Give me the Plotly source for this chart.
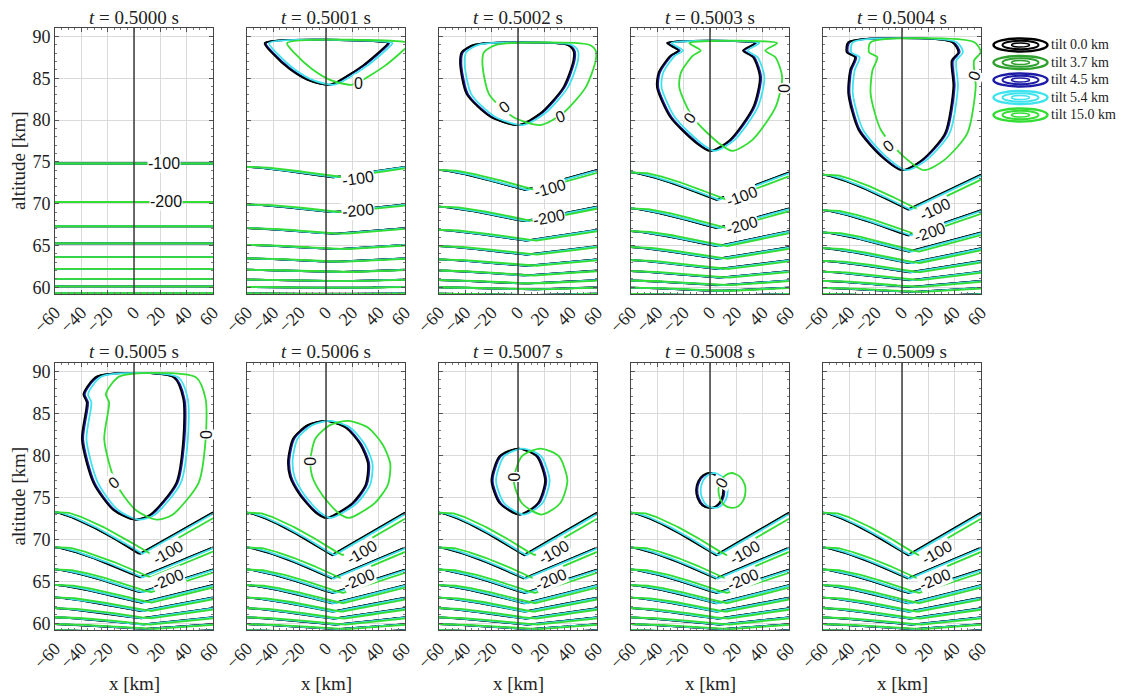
import numpy as np
import plotly.graph_objects as go

# ---------------- data ----------------
times = ["0.5000", "0.5001", "0.5002", "0.5003", "0.5004",
         "0.5005", "0.5006", "0.5007", "0.5008", "0.5009"]
tilt_labels = ["tilt 0.0 km", "tilt 3.7 km", "tilt 4.5 km", "tilt 5.4 km", "tilt 15.0 km"]
tilt_colors = ["#000000", "#2ea02e", "#1c1ca6", "#3fe3ee", "#33dd33"]
draw_order = [1, 2, 0, 3, 4]

# undisturbed contour altitudes (km) of the layered field (t = 0.5000 s)
levels = [74.8, 70.2, 67.3, 65.25, 63.6, 62.2, 61.0, 60.1, 59.3]
base_alt = 58.0
# relative depth of the V-shaped depression per panel
depth = [0.0, 0.10, 0.19, 0.26, 0.33, 0.39, 0.40, 0.40, 0.40, 0.40]
edge_frac = 0.24
vertex_x = 4.0
# horizontal displacement of each tilt's contours (km)
line_shift = [0.0, 0.4, 0.8, 2.0, 8.0]
bubble_shift = [0.0, 0.5, 1.0, 3.5, 17.0]

# zero contour (tilt 0.0 km) outlines per panel
bub1_x = [-46.6, -40.3, -27.7, -12.5, 2.0, 7.7, 27.9, 45.6, 47.0, -46.6]
bub1_z = [89.2, 87.9, 86.1, 84.7, 84.2, 84.5, 86.5, 88.9, 89.2, 89.2]
bub2_x = [-33.0, -42.8, -44.0, -39.0, -21.0, 0.0, 17.0, 34.4, 42.0, 42.0, 37.0, -33.0]
bub2_z = [89.0, 88.1, 86.7, 83.1, 80.4, 79.4, 80.8, 83.9, 87.1, 88.3, 89.0, 89.0]
bub3_x = [-32.7, -24.0, -30.0, -39.0, -40.3, -30.0, -10.0, 0.0, 15.0, 32.7, 37.8, 32.7, 25.0, 34.0, -32.7]
bub3_z = [89.2, 88.3, 87.7, 85.7, 83.9, 80.3, 77.2, 76.3, 77.6, 81.5, 85.1, 87.5, 88.3, 89.2, 89.2]
bub4_x = [-40.8, -42.0, -35.7, -39.5, -40.8, -33.0, -15.4, 0.0, 15.0, 32.6, 39.0, 37.7, 42.8, 38.0, -40.8]
bub4_z = [89.3, 88.1, 87.5, 85.9, 83.1, 78.8, 75.6, 74.0, 75.2, 78.4, 84.0, 87.1, 88.1, 89.3, 89.3]
bub5_x = [-28.0, -38.4, -35.9, -39.6, -30.8, -15.7, 0.0, 12.0, 32.0, 37.4, 37.4, 30.0, -28.0]
bub5_z = [89.4, 87.3, 86.3, 81.9, 76.7, 73.5, 72.35, 72.9, 76.7, 81.9, 86.7, 89.3, 89.4]
bub6_x = [0.0, 15.0, 26.0, 31.8, 30.0, 20.0, 5.0, 0.0, -8.0, -20.0, -27.5, -28.8, -25.0, -14.0, 0.0]
bub6_z = [84.1, 83.3, 81.3, 79.0, 76.5, 74.3, 72.8, 72.55, 73.2, 75.3, 77.5, 79.5, 82.0, 83.6, 84.1]
bub7_x = [0.0, 14.0, 20.5, 15.0, 1.0, -14.0, -20.2, -14.0, 0.0]
bub7_z = [80.8, 79.9, 77.0, 74.3, 72.95, 74.3, 77.0, 79.9, 80.8]
bub8_x = [-0.5, 5.5, 9.2, 10.0, 8.5, 4.5, -0.5, -6.0, -9.5, -10.6, -9.0, -5.5, -0.5]
bub8_z = [77.9, 77.5, 76.6, 75.8, 74.7, 73.95, 73.75, 74.05, 74.9, 75.9, 76.9, 77.6, 77.9]
bubbles = {1: (bub1_x, bub1_z), 2: (bub2_x, bub2_z), 3: (bub3_x, bub3_z),
           4: (bub4_x, bub4_z), 5: (bub5_x, bub5_z), 6: (bub6_x, bub6_z),
           7: (bub7_x, bub7_z), 8: (bub8_x, bub8_z)}

# contour label positions (x km, altitude km)
lab100_x = [22.8, 24, 24, 24, 25, 26, 27, 27, 26.6, 26.6]
lab100_z = [74.75, 73.0, 71.8, 70.8, 69.3, 68.4, 68.4, 68.4, 68.4, 68.4]
lab200_x = [24, 24, 23.5, 24, 21, 26, 25, 25, 25, 25]
lab200_z = [70.2, 69.2, 68.3, 67.4, 66.5, 65.2, 65.2, 65.2, 65.2, 65.2]
# zero labels: (panel, x, z, angle)
zero_labels = [(1, 24.7, 84.35, 0), (2, -9.9, 81.6, -40), (2, 32.4, 80.4, -20),
               (3, -15.2, 80.3, -55), (3, 57.0, 83.75, -90),
               (4, -9.9, 76.9, -40), (4, 55.0, 85.3, -70),
               (5, -15.2, 76.8, -40), (5, 55.2, 82.5, -90),
               (6, -11.8, 79.3, -90), (7, -2.8, 77.4, -90), (8, 8.4, 76.7, -60)]

x_ticks = [-60, -40, -20, 0, 20, 40, 60]
y_ticks = [60, 65, 70, 75, 80, 85, 90]
x_range = [-60, 60]
y_range = [59.2, 91.0]

# ---------------- layout geometry (pixels in the 1125x696 page) ----------------
PAGE_OFF = 8          # default body margin of the html page
W, H = 1125 - PAGE_OFF, 696 - PAGE_OFF
col_left = [55, 247, 439, 631, 823]
pw = 158
row_top = [28, 363]
row_bot = [294, 630]
SERIF = "Liberation Serif"
SANS = "Liberation Sans"


def px2x(p):
    return (p - PAGE_OFF) / W


def px2y(p):
    return 1 - (p - PAGE_OFF) / H


def profile(x):
    x = np.asarray(x, dtype=float)
    p = np.empty_like(x)
    left = x <= vertex_x
    u = np.clip((x[left] + 60) / (vertex_x + 60), 0, None)
    p[left] = edge_frac + (1 - edge_frac) * u ** 1.3
    u2 = (60 - x[~left]) / (60 - vertex_x)
    p[~left] = np.clip(edge_frac + (1 - edge_frac) * u2, 0.02, None)
    return p


def level_line(L, d, xs):
    return base_alt + (L - base_alt) * (1 - d * profile(xs))


fig = go.Figure()
layout = dict(width=W, height=H, autosize=False,
              margin=dict(l=0, r=0, t=0, b=0, pad=0, autoexpand=False),
              paper_bgcolor="white", plot_bgcolor="white", showlegend=False)
annotations = []
shapes = []

xs = np.linspace(-60, 60, 481)

for i, t in enumerate(times):
    r, c = divmod(i, 5)
    xa = "x" if i == 0 else f"x{i+1}"
    ya = "y" if i == 0 else f"y{i+1}"
    xkey = "xaxis" if i == 0 else f"xaxis{i+1}"
    ykey = "yaxis" if i == 0 else f"yaxis{i+1}"
    layout[xkey] = dict(
        domain=[px2x(col_left[c]), px2x(col_left[c] + pw)], anchor=ya, automargin=False,
        range=x_range, tickvals=x_ticks, tickangle=-45,
        ticks="inside", ticklen=4, tickcolor="#555",
        showgrid=True, gridcolor="#dadada", gridwidth=1,
        showline=True, linecolor="#444", linewidth=1, mirror="allticks",
        zeroline=False, tickfont=dict(family=SERIF, size=18, color="#222"),
        minor=dict(ticks="inside", ticklen=2, dtick=5, tickcolor="#777", showgrid=False),
    )
    layout[ykey] = dict(
        domain=[px2y(row_bot[r]), px2y(row_top[r])], anchor=xa, automargin=False,
        range=y_range, tickvals=y_ticks, showticklabels=(c == 0),
        ticks="inside", ticklen=4, tickcolor="#555",
        showgrid=True, gridcolor="#dadada", gridwidth=1,
        showline=True, linecolor="#444", linewidth=1, mirror="allticks",
        zeroline=False, tickfont=dict(family=SERIF, size=18, color="#222"),
        minor=dict(ticks="inside", ticklen=2, dtick=1, tickcolor="#777", showgrid=False),
    )

    for k in draw_order:
        col = tilt_colors[k]
        s = line_shift[k]
        for L in levels:
            fig.add_trace(go.Scatter(
                x=xs, y=level_line(L, depth[i], xs - s), xaxis=xa, yaxis=ya,
                mode="lines", line=dict(color=col, width=1.8), hoverinfo="skip"))
        if i in bubbles:
            bx, bz = bubbles[i]
            fig.add_trace(go.Scatter(
                x=np.asarray(bx) + bubble_shift[k], y=bz, xaxis=xa, yaxis=ya,
                mode="lines", line=dict(color=col, width=1.8, shape="spline", smoothing=0.7),
                hoverinfo="skip"))

    # x = 0 reference line
    fig.add_trace(go.Scatter(x=[0, 0], y=y_range, xaxis=xa, yaxis=ya, mode="lines",
                             line=dict(color="#3c3c3c", width=1.5), hoverinfo="skip"))

    # contour labels -100 / -200
    for txt, lx, lz, L in (("-100", lab100_x[i], lab100_z[i], levels[0]),
                           ("-200", lab200_x[i], lab200_z[i], levels[1])):
        z1 = level_line(L, depth[i], np.array([lx - 2 - line_shift[4]]))[0]
        z2 = level_line(L, depth[i], np.array([lx + 2 - line_shift[4]]))[0]
        slope = (z2 - z1) / 4.0
        ang = -np.degrees(np.arctan(slope * (251 / 30) / (pw / 120)))
        annotations.append(dict(x=lx, y=lz, xref=xa, yref=ya, text=txt, showarrow=False,
                                textangle=ang, bgcolor="white", borderpad=0,
                                xanchor="center", yanchor="middle",
                                font=dict(family=SANS, size=16, color="#111")))

    # title
    annotations.append(dict(x=px2x(col_left[c] + pw / 2), y=px2y(17 if r == 0 else 351),
                            xref="paper", yref="paper", text=f"<i>t</i> = {t} s",
                            xanchor="center", yanchor="middle",
                            showarrow=False, font=dict(family=SERIF, size=19, color="#222")))
    if r == 1:
        annotations.append(dict(x=px2x(col_left[c] + pw / 2), y=px2y(683),
                                xref="paper", yref="paper", text="x [km]", showarrow=False,
                                xanchor="center", yanchor="middle",
                                font=dict(family=SERIF, size=19, color="#222")))

for (pi, lx, lz, ang) in zero_labels:
    xa = f"x{pi+1}"
    ya = f"y{pi+1}"
    annotations.append(dict(x=lx, y=lz, xref=xa, yref=ya, text="0", showarrow=False,
                            textangle=ang, bgcolor="white", borderpad=0,
                            xanchor="center", yanchor="middle",
                            font=dict(family=SANS, size=16, color="#111")))

for r in range(2):
    annotations.append(dict(x=px2x(18), y=px2y((row_top[r] + row_bot[r]) / 2),
                            xref="paper", yref="paper", text="altitude [km]", textangle=-90,
                            xanchor="center", yanchor="middle",
                            showarrow=False, font=dict(family=SERIF, size=19, color="#222")))

# custom legend: concentric ellipses + text
leg_y = [45, 62.5, 80, 97.5, 115]
cx = 1020.5
for k, lab in enumerate(tilt_labels):
    cy = leg_y[k]
    for rx, ry, lw in ((27, 6.5, 2.5), (18, 4.2, 2), (9, 2.0, 1.5)):
        shapes.append(dict(type="circle", xref="paper", yref="paper",
                           x0=px2x(cx - rx), x1=px2x(cx + rx),
                           y0=px2y(cy + ry), y1=px2y(cy - ry),
                           line=dict(color=tilt_colors[k], width=lw)))
    annotations.append(dict(x=px2x(1049), y=px2y(cy), xref="paper", yref="paper",
                            text=lab, showarrow=False, xanchor="left", yanchor="middle",
                            font=dict(family=SERIF, size=14, color="#222")))

layout["annotations"] = annotations
layout["shapes"] = shapes
fig.update_layout(**layout)
fig.write_html("out.html")
